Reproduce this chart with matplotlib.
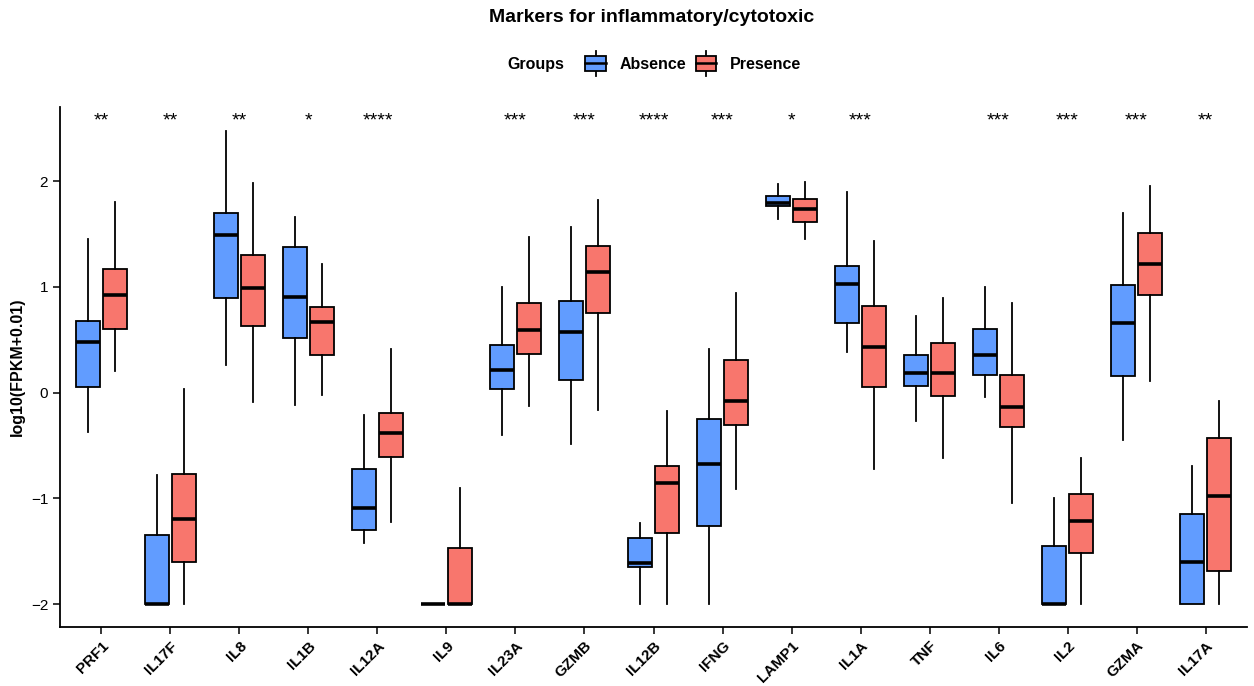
import matplotlib
matplotlib.use("Agg")
import matplotlib.pyplot as plt
from matplotlib.patches import Rectangle, Patch
from matplotlib.lines import Line2D
from matplotlib.legend_handler import HandlerBase

plt.rcParams['font.family'] = ['Liberation Sans', 'DejaVu Sans']

genes = ["PRF1", "IL17F", "IL8", "IL1B", "IL12A", "IL9", "IL23A", "GZMB", "IL12B",
         "IFNG", "LAMP1", "IL1A", "TNF", "IL6", "IL2", "GZMA", "IL17A"]
signif = ["**", "**", "**", "*", "****", "", "***", "***", "****", "***", "*", "***",
          "", "***", "***", "***", "**"]

# Absence group: whisker low, Q1, median, Q3, whisker high
abs_lo  = [-0.37, -2.00, 0.26, -0.12, -1.42, -2.00, -0.40, -0.49, -2.00, -2.00, 1.64, 0.38, -0.27, -0.04, -2.00, -0.45, -2.00]
abs_q1  = [0.05, -2.00, 0.89, 0.52, -1.30, -2.00, 0.03, 0.12, -1.65, -1.26, 1.76, 0.66, 0.06, 0.17, -2.00, 0.16, -2.00]
abs_med = [0.48, -2.00, 1.49, 0.90, -1.09, -2.00, 0.21, 0.57, -1.61, -0.67, 1.79, 1.03, 0.19, 0.36, -2.00, 0.66, -1.60]
abs_q3  = [0.68, -1.35, 1.70, 1.38, -0.72, -2.00, 0.45, 0.87, -1.37, -0.25, 1.86, 1.20, 0.36, 0.60, -1.45, 1.02, -1.15]
abs_hi  = [1.45, -0.78, 2.47, 1.66, -0.21, -2.00, 1.00, 1.57, -1.23, 0.41, 1.97, 1.90, 0.72, 1.00, -1.00, 1.70, -0.69]

# Presence group
pre_lo  = [0.20, -2.00, -0.09, -0.02, -1.22, -2.00, -0.13, -0.16, -2.00, -0.91, 1.45, -0.72, -0.62, -1.04, -2.00, 0.11, -2.00]
pre_q1  = [0.60, -1.60, 0.63, 0.36, -0.61, -2.00, 0.37, 0.75, -1.33, -0.31, 1.61, 0.05, -0.03, -0.32, -1.52, 0.92, -1.69]
pre_med = [0.92, -1.19, 0.99, 0.67, -0.38, -2.00, 0.59, 1.14, -0.85, -0.08, 1.74, 0.43, 0.19, -0.14, -1.21, 1.22, -0.98]
pre_q3  = [1.17, -0.77, 1.30, 0.81, -0.19, -1.47, 0.85, 1.39, -0.69, 0.31, 1.83, 0.82, 0.47, 0.17, -0.96, 1.51, -0.43]
pre_hi  = [1.80, 0.03, 1.98, 1.22, 0.41, -0.90, 1.47, 1.82, -0.17, 0.94, 1.99, 1.43, 0.89, 0.85, -0.62, 1.95, -0.08]

groups = ["Absence", "Presence"]
colors = ["#619CFF", "#F8766D"]

fig = plt.figure(figsize=(12.54, 6.86), dpi=100)
ax = fig.add_axes([60/1254, 1 - 627/686, 1187/1254, (627 - 107)/686])

def make_stats(lo, q1, med, q3, hi):
    return [dict(whislo=a, q1=b, med=c, q3=d, whishi=e, fliers=[])
            for a, b, c, d, e in zip(lo, q1, med, q3, hi)]

n = len(genes)
offsets = [-0.2, 0.2]
data_sets = [make_stats(abs_lo, abs_q1, abs_med, abs_q3, abs_hi),
             make_stats(pre_lo, pre_q1, pre_med, pre_q3, pre_hi)]
for k in range(2):
    ax.bxp(data_sets[k], positions=[i + offsets[k] for i in range(n)], widths=0.35,
           patch_artist=True, showcaps=False, showfliers=False,
           boxprops=dict(facecolor=colors[k], edgecolor="black", linewidth=1.3),
           medianprops=dict(color="black", linewidth=2.6, solid_capstyle="butt"),
           whiskerprops=dict(color="black", linewidth=1.3), manage_ticks=False)

for i, s in enumerate(signif):
    if s:
        ax.text(i, 2.57, s, ha="center", va="center", fontsize=14)

ax.set_xlim(-0.6, n - 0.4)
ax.set_ylim(-2.215, 2.70)
ax.set_xticks(range(n))
ax.set_xticklabels(genes, rotation=45, ha="right", rotation_mode="anchor",
                   fontsize=11, fontweight="bold")
ax.set_yticks([-2, -1, 0, 1, 2])
ax.set_yticklabels(["\u22122", "\u22121", "0", "1", "2"], fontsize=11)
ax.tick_params(axis="both", length=5, width=1.1, color="black")
ax.spines["top"].set_visible(False)
ax.spines["right"].set_visible(False)
for sp in ("left", "bottom"):
    ax.spines[sp].set_linewidth(1.3)
ax.set_ylabel("log10(FPKM+0.01)", fontsize=11.5, fontweight="bold", labelpad=4)

fig.text(652/1254, 1 - 17/686, "Markers for inflammatory/cytotoxic", ha="center",
         va="center", fontsize=14, fontweight="bold")


class BoxHandler(HandlerBase):
    def create_artists(self, legend, orig_handle, xdescent, ydescent, width, height,
                       fontsize, trans):
        x0, y0 = -xdescent, -ydescent
        fc = orig_handle.get_facecolor()
        bh = 15.0 * 72 / 100
        cy = y0 + height / 2
        rect = Rectangle((x0, cy - bh / 2), width, bh, facecolor=fc,
                         edgecolor="black", linewidth=1.3, transform=trans)
        xc = x0 + width / 2
        wl = 5.0 * 72 / 100
        w1 = Line2D([xc, xc], [cy - bh / 2 - wl, cy - bh / 2], color="black",
                    linewidth=1.3, transform=trans)
        w2 = Line2D([xc, xc], [cy + bh / 2, cy + bh / 2 + wl], color="black",
                    linewidth=1.3, transform=trans)
        med = Line2D([x0, x0 + width], [cy, cy], color="black",
                     linewidth=1.8, transform=trans)
        return [w1, w2, rect, med]


handles = [Patch(facecolor=c, edgecolor="black") for c in colors]
fig.text(536/1254, 1 - 64/686, "Groups", ha="center", va="center", fontsize=11.5,
         fontweight="bold")
leg = fig.legend(handles, groups, loc="center left",
                 bbox_to_anchor=(574/1254, 1 - 64/686), ncol=2, frameon=False,
                 handler_map={Patch: BoxHandler()}, handlelength=1.3, handleheight=1.0,
                 handletextpad=0.85, columnspacing=0.6, borderpad=0.2,
                 prop=dict(size=11.5, weight="bold"))

fig.savefig("out.png", dpi=100)
